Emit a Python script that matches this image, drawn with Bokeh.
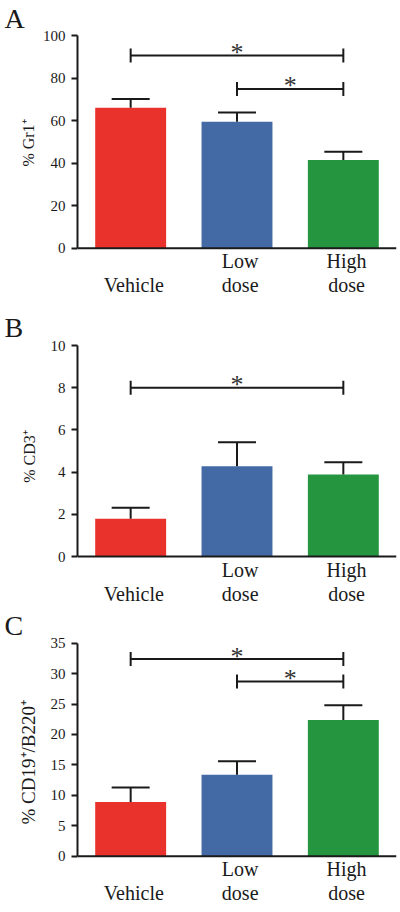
from bokeh.plotting import figure
from bokeh.layouts import column
from bokeh.models import Range1d, FixedTicker, ColumnDataSource
from bokeh.embed import file_html
from bokeh.resources import INLINE
from bokeh.core.properties import value

# ---------------- data ----------------
groups = ["Vehicle", "Low dose", "High dose"]
group_lines = [["Vehicle"], ["Low", "dose"], ["High", "dose"]]
colors = ["#E8322B", "#436AA5", "#26953F"]

gr1_mean = [66.0, 59.4, 41.5]
gr1_err = [4.2, 4.4, 3.8]
gr1_sig = [(0, 2, 90.6), (1, 2, 74.9)]

cd3_mean = [1.79, 4.28, 3.89]
cd3_err = [0.52, 1.14, 0.58]
cd3_sig = [(0, 2, 8.0)]

cd19_mean = [8.9, 13.4, 22.4]
cd19_err = [2.4, 2.2, 2.4]
cd19_sig = [(0, 2, 32.4), (1, 2, 28.7)]

FONT = "Liberation Serif"
INK = "#1a1a1a"


def panel(letter, means, errs, sigs, ylabel, ymax, ystep, fig_top, fig_bottom,
          border_top, zero_px, top_px, label_standoff, label_size, label_pad):
    W = 400
    left, right = 77, 4
    frame_top = fig_top + border_top
    frame_bottom = fig_bottom
    ppu = (zero_px - top_px) / ymax
    y_end = (zero_px - frame_top) / ppu
    y_start = -(frame_bottom - zero_px) / ppu
    frame_w = W - left - right
    ppx = frame_w / 3.0

    p = figure(width=W, height=fig_bottom - fig_top, output_backend="svg",
               toolbar_location=None, x_axis_location=None,
               x_range=Range1d(0, 3), y_range=Range1d(y_start, y_end),
               min_border_left=left, min_border_right=right,
               min_border_top=border_top, min_border_bottom=0)
    p.outline_line_color = None
    p.xgrid.visible = False
    p.ygrid.visible = False

    # panel letter as title
    p.title.text = letter
    p.title.text_font = FONT
    p.title.text_font_size = "28px"
    p.title.text_font_style = "normal"
    p.title.text_color = INK
    p.title.align = "left"
    p.title.offset = 4 - left
    p.title.standoff = 0

    xs = [i + 0.5 for i in range(len(groups))]
    src = ColumnDataSource(dict(x=xs, top=means, color=colors,
                                etop=[m + e for m, e in zip(means, errs)]))
    p.vbar(x="x", top="top", width=0.667, fill_color="color", line_color=None,
           source=src)
    # error bars (upper only)
    p.segment(x0="x", y0="top", x1="x", y1="etop", line_width=2,
              line_color=INK, source=src)
    cap = 19 / ppx
    p.segment(x0=[x - cap for x in xs], y0=src.data["etop"],
              x1=[x + cap for x in xs], y1=src.data["etop"], line_width=2,
              line_color=INK)
    # x axis line
    p.segment(x0=[0], y0=[0], x1=[3], y1=[0], line_width=2, line_color=INK)

    # significance brackets
    tick_h = 7 / ppu
    for a, b, yv in sigs:
        xa, xb = a + 0.5, b + 0.5
        p.segment(x0=[xa, xa, xb], y0=[yv, yv - tick_h, yv - tick_h],
                  x1=[xb, xa, xb], y1=[yv, yv + tick_h, yv + tick_h],
                  line_width=2, line_color=INK)
        p.text(x=[(xa + xb) / 2], y=[yv + 3 / ppu], text=["*"],
               text_align="center", text_baseline="alphabetic",
               text_font=value(FONT), text_font_size="26px",
               text_color="#333333")

    # category labels
    tx, ty, tt = [], [], []
    for i, lines in enumerate(group_lines):
        offs = [37] if len(lines) == 1 else [13, 37]
        for line, o in zip(lines, offs):
            tx.append(i + 0.5 + 0.03)
            ty.append(-o / ppu)
            tt.append(line)
    p.text(x=tx, y=ty, text=tt, text_align="center", text_baseline="alphabetic",
           text_font=value(FONT), text_font_size="20px", text_color=INK)

    # y axis
    yax = p.yaxis[0]
    yax.ticker = FixedTicker(ticks=list(range(0, ymax + 1, ystep)))
    yax.bounds = (0, ymax)
    yax.axis_line_width = 2
    yax.axis_line_color = INK
    yax.major_tick_line_width = 2
    yax.major_tick_line_color = INK
    yax.major_tick_out = 6
    yax.major_tick_in = 0
    yax.minor_tick_line_color = None
    yax.major_label_text_font = FONT
    yax.major_label_text_font_size = "15px"
    yax.major_label_text_color = INK
    yax.major_label_standoff = 6
    # leading no-break spaces lift the centred label to sit beside the axis span
    yax.axis_label = "\u00a0" * label_pad + ylabel
    yax.axis_label_text_font = FONT
    yax.axis_label_text_font_size = label_size
    yax.axis_label_text_font_style = "normal"
    yax.axis_label_text_color = INK
    yax.axis_label_standoff = label_standoff
    return p


pa = panel("A", gr1_mean, gr1_err, gr1_sig, "% Gr1\u207a", 100, 20,
           0, 300, 33, 247.7, 35.0, 3, "16px", 12)
pb = panel("B", cd3_mean, cd3_err, cd3_sig, "% CD3\u207a", 10, 2,
           300, 606, 42, 556.0, 345.0, 10, "16px", 9)
pc = panel("C", cd19_mean, cd19_err, cd19_sig, "% CD19\u207a/B220\u207a", 35, 5,
           606, 912, 34, 855.7, 642.7, 9, "19px", 6)

layout = column(pa, pb, pc, spacing=0)
open("out.html", "w").write(file_html(layout, INLINE))
